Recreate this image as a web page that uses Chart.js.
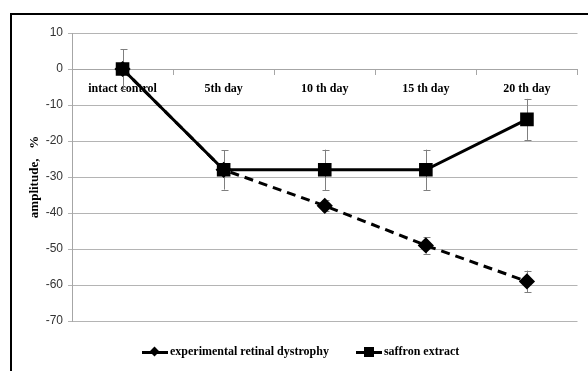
<!DOCTYPE html>
<html>
<head>
<meta charset="utf-8">
<script src="https://cdn.jsdelivr.net/npm/chart.js@4"></script>
<style>
  html, body { margin: 0; padding: 0; background: #fff; }
  #wrap { position: relative; width: 588px; height: 371px; overflow: hidden; }
  #frame { position: absolute; left: 10px; top: 13px; width: 600px; height: 400px; border-left: 2px solid #000; border-top: 2px solid #000; }
  canvas { position: absolute; left: 0; top: 0; }
  .legend { position: absolute; top: 344px; left: 142px; font: bold 12px "Liberation Serif", serif; color: #000; white-space: nowrap; }
  .item { display: inline-block; margin-right: 24px; }
  .mark { display: inline-block; position: relative; width: 26px; height: 12px; vertical-align: middle; margin-right: 2px; }
  .mark .ln { position: absolute; left: 0; right: 0; top: 5px; height: 3px; background: #000; }
  .mark .dia { position: absolute; left: 9px; top: 2px; width: 7px; height: 7px; background: #000; transform: rotate(45deg); }
  .mark .sq { position: absolute; left: 8px; top: 1px; width: 10px; height: 10px; background: #000; }
</style>
</head>
<body>
<div id="wrap">
  <div id="frame"></div>
  <canvas id="chart" width="588" height="371"></canvas>
  <div class="legend">
    <span class="item"><span class="mark"><span class="ln"></span><span class="dia"></span></span>experimental retinal dystrophy</span>
    <span class="item"><span class="mark"><span class="ln"></span><span class="sq"></span></span>saffron extract</span>
  </div>
</div>
<script>
// 数据
const categories = ['intact control', '5th day', '10 th day', '15 th day', '20 th day'];
const dystrophy = [0, -28, -38, -49, -59];
const dystrophyErr = [0, 0, 1.5, 2.3, 3];
const saffron = [0, -28, -28, -28, -14];
const saffronErr = [5.5, 5.5, 5.6, 5.6, 5.7];
const yTicks = [10, 0, -10, -20, -30, -40, -50, -60, -70];

// 误差线插件
const errorBars = {
  id: 'errorBars',
  beforeDatasetsDraw(chart) {
    const ctx = chart.ctx;
    const yScale = chart.scales.y;
    ctx.save();
    ctx.strokeStyle = '#7f7f7f';
    ctx.lineWidth = 1;
    chart.data.datasets.forEach((ds, i) => {
      const meta = chart.getDatasetMeta(i);
      ds.errors.forEach((err, j) => {
        if (!err) return;
        const x = Math.round(meta.data[j].x) + 0.5;
        const top = yScale.getPixelForValue(ds.data[j] + err);
        const bot = yScale.getPixelForValue(ds.data[j] - err);
        ctx.beginPath();
        ctx.moveTo(x, top); ctx.lineTo(x, bot);
        ctx.moveTo(x - 3, Math.round(top) + 0.5); ctx.lineTo(x + 4, Math.round(top) + 0.5);
        ctx.moveTo(x - 3, Math.round(bot) + 0.5); ctx.lineTo(x + 4, Math.round(bot) + 0.5);
        ctx.stroke();
      });
    });
    ctx.restore();
  }
};

new Chart(document.getElementById('chart').getContext('2d'), {
  type: 'line',
  data: {
    labels: categories,
    datasets: [{
      label: 'saffron extract',
      data: saffron,
      errors: saffronErr,
      borderColor: '#000',
      backgroundColor: '#000',
      borderWidth: 3,
      pointStyle: 'rect',
      pointRadius: 7.5,
      tension: 0
    }, {
      label: 'experimental retinal dystrophy',
      data: dystrophy,
      errors: dystrophyErr,
      borderColor: '#000',
      backgroundColor: '#000',
      borderWidth: 3,
      borderDash: [9, 6],
      pointStyle: 'rectRot',
      pointRadius: 6,
      tension: 0
    }]
  },
  options: {
    responsive: false,
    animation: false,
    layout: { padding: { left: 10, right: 10, top: 33, bottom: 50 } },
    plugins: { legend: { display: false }, tooltip: { enabled: false } },
    scales: {
      x: {
        position: { y: 0 },
        offset: true,
        grid: { offset: true, drawOnChartArea: false, drawTicks: true, tickLength: 5, color: '#a6a6a6' },
        border: { display: true, color: '#a6a6a6' },
        ticks: { color: '#000', padding: 8, font: { family: 'Liberation Serif', weight: 'bold', size: 12 } }
      },
      y: {
        min: -70,
        max: 10,
        afterFit(scale) { scale.width = 62; },
        afterBuildTicks(scale) { scale.ticks = yTicks.map(v => ({ value: v })); },
        grid: { color: '#b4b4b4', tickLength: 4 },
        border: { color: '#a6a6a6' },
        ticks: { color: '#333', padding: 5, font: { family: 'Liberation Sans', size: 12 } },
        title: {
          display: true,
          text: 'amplitude,   %',
          color: '#000',
          padding: { top: 17, bottom: 0 },
          font: { family: 'Liberation Serif', weight: 'bold', size: 13 }
        }
      }
    }
  },
  plugins: [errorBars]
});
</script>
</body>
</html>
